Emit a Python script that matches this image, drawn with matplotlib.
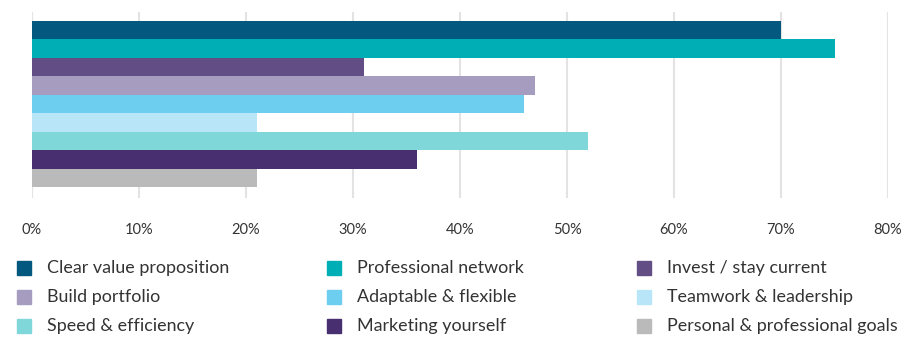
import matplotlib
matplotlib.use("Agg")
import matplotlib.pyplot as plt
from matplotlib.patches import Rectangle

plt.rcParams['font.family'] = ['Lato', 'DejaVu Sans']

# Categorías y porcentajes
categorias = ["Clear value proposition", "Professional network", "Invest / stay current",
              "Build portfolio", "Adaptable & flexible", "Teamwork & leadership",
              "Speed & efficiency", "Marketing yourself", "Personal & professional goals"]
valores = [70, 75, 31, 47, 46, 21, 52, 36, 21]
colores = ["#02587F", "#00AEB5", "#624E85", "#A69CC0", "#6DCEF0",
           "#B8E6F8", "#80D7D9", "#482F6F", "#BABABA"]
ticks = [0, 10, 20, 30, 40, 50, 60, 70, 80]

W, H = 905, 338
fig = plt.figure(figsize=(W/100, H/100), dpi=100)
ax = fig.add_axes([32/W, 1-198/H, (888-32)/W, (198-12)/H])

pos = list(range(len(valores)))
ax.barh(pos, valores, height=1.0, color=colores, zorder=2)
ax.set_ylim(9.1, -0.99)
ax.set_xlim(0, 80)
ax.set_xticks(ticks)
ax.set_xticklabels([f"{t}%" for t in ticks], fontsize=10.5, color="#333333")
ax.tick_params(axis='x', length=0, pad=18)
ax.set_yticks([])
ax.grid(axis='x', color="#e3e3e3", linewidth=1.5, zorder=0)
for s in ax.spines.values():
    s.set_visible(False)

# Leyenda en 3 columnas, por filas
col_x = [17, 327, 637]
fila_y = [268, 297, 326]
for i, (cat, c) in enumerate(zip(categorias, colores)):
    x = col_x[i % 3]
    y = fila_y[i // 3]
    fig.add_artist(Rectangle((x/W, 1-(y+7)/H), 14/W, 14/H, transform=fig.transFigure,
                             color=c))
    fig.text((x+30)/W, 1-y/H, cat, fontsize=12.9, color="#333333", va='center', ha='left')

fig.savefig("out.png", dpi=100)
